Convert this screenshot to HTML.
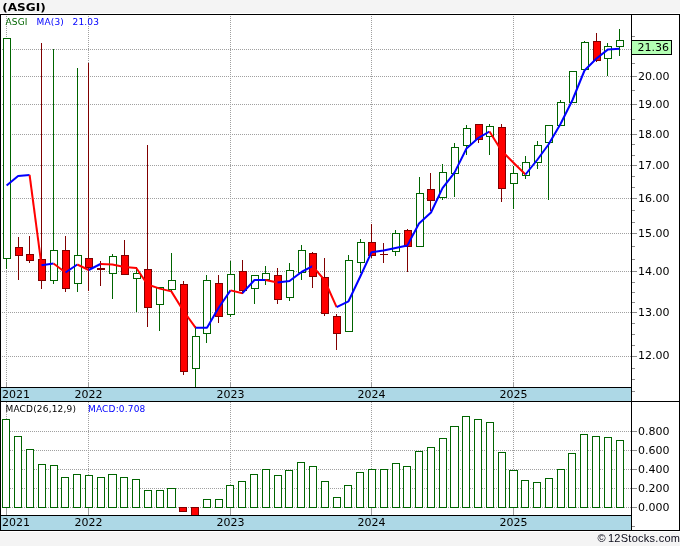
<!DOCTYPE html>
<html lang="en"><head><meta charset="utf-8"><title>(ASGI)</title>
<style>html,body{margin:0;padding:0;background:#f4f4f4;}body{width:680px;height:546px;overflow:hidden;}</style>
</head><body>
<svg width="680" height="546" viewBox="0 0 680 546" style="display:block">
<rect x="0" y="0" width="680" height="546" fill="#f4f4f4"/>
<rect x="0" y="13" width="680" height="519" fill="#ffffff"/>
<rect x="1" y="388" width="630" height="13" fill="#add8e6" shape-rendering="crispEdges"/>
<rect x="1" y="516" width="630" height="14" fill="#add8e6" shape-rendering="crispEdges"/>
<g stroke="#a0a0a0" stroke-width="1" stroke-dasharray="1 1" shape-rendering="crispEdges" fill="none">
<line x1="0" y1="49.5" x2="631" y2="49.5"/>
<line x1="0" y1="76.5" x2="631" y2="76.5"/>
<line x1="0" y1="104.5" x2="631" y2="104.5"/>
<line x1="0" y1="134.5" x2="631" y2="134.5"/>
<line x1="0" y1="165.5" x2="631" y2="165.5"/>
<line x1="0" y1="198.5" x2="631" y2="198.5"/>
<line x1="0" y1="233.5" x2="631" y2="233.5"/>
<line x1="0" y1="271.5" x2="631" y2="271.5"/>
<line x1="0" y1="312.5" x2="631" y2="312.5"/>
<line x1="0" y1="356.5" x2="631" y2="356.5"/>
<line x1="0" y1="431.5" x2="631" y2="431.5"/>
<line x1="0" y1="450.5" x2="631" y2="450.5"/>
<line x1="0" y1="469.5" x2="631" y2="469.5"/>
<line x1="0" y1="488.5" x2="631" y2="488.5"/>
<line x1="0" y1="507.5" x2="631" y2="507.5"/>
<line x1="6.5" y1="14" x2="6.5" y2="388"/>
<line x1="6.5" y1="402" x2="6.5" y2="516"/>
<line x1="88.5" y1="14" x2="88.5" y2="388"/>
<line x1="88.5" y1="402" x2="88.5" y2="516"/>
<line x1="230.5" y1="14" x2="230.5" y2="388"/>
<line x1="230.5" y1="402" x2="230.5" y2="516"/>
<line x1="371.5" y1="14" x2="371.5" y2="388"/>
<line x1="371.5" y1="402" x2="371.5" y2="516"/>
<line x1="513.5" y1="14" x2="513.5" y2="388"/>
<line x1="513.5" y1="402" x2="513.5" y2="516"/>
</g>
<g stroke="#a0a0a0" stroke-width="1" shape-rendering="crispEdges">
<line x1="6.5" y1="382" x2="6.5" y2="387"/>
<line x1="6.5" y1="509" x2="6.5" y2="515"/>
<line x1="88.5" y1="382" x2="88.5" y2="387"/>
<line x1="88.5" y1="509" x2="88.5" y2="515"/>
<line x1="230.5" y1="382" x2="230.5" y2="387"/>
<line x1="230.5" y1="509" x2="230.5" y2="515"/>
<line x1="371.5" y1="382" x2="371.5" y2="387"/>
<line x1="371.5" y1="509" x2="371.5" y2="515"/>
<line x1="513.5" y1="382" x2="513.5" y2="387"/>
<line x1="513.5" y1="509" x2="513.5" y2="515"/>
</g>
<rect x="2.5" y="419.5" width="7" height="88" fill="#ffffff" stroke="#006400" stroke-width="1" shape-rendering="crispEdges"/>
<rect x="14.5" y="436.5" width="7" height="71" fill="#ffffff" stroke="#006400" stroke-width="1" shape-rendering="crispEdges"/>
<rect x="26.5" y="449.5" width="7" height="58" fill="#ffffff" stroke="#006400" stroke-width="1" shape-rendering="crispEdges"/>
<rect x="38.5" y="464.5" width="7" height="43" fill="#ffffff" stroke="#006400" stroke-width="1" shape-rendering="crispEdges"/>
<rect x="50.5" y="465.5" width="7" height="42" fill="#ffffff" stroke="#006400" stroke-width="1" shape-rendering="crispEdges"/>
<rect x="61.5" y="477.5" width="7" height="30" fill="#ffffff" stroke="#006400" stroke-width="1" shape-rendering="crispEdges"/>
<rect x="73.5" y="474.5" width="7" height="33" fill="#ffffff" stroke="#006400" stroke-width="1" shape-rendering="crispEdges"/>
<rect x="85.5" y="475.5" width="7" height="32" fill="#ffffff" stroke="#006400" stroke-width="1" shape-rendering="crispEdges"/>
<rect x="97.5" y="477.5" width="7" height="30" fill="#ffffff" stroke="#006400" stroke-width="1" shape-rendering="crispEdges"/>
<rect x="108.5" y="474.5" width="8" height="33" fill="#ffffff" stroke="#006400" stroke-width="1" shape-rendering="crispEdges"/>
<rect x="120.5" y="477.5" width="7" height="30" fill="#ffffff" stroke="#006400" stroke-width="1" shape-rendering="crispEdges"/>
<rect x="132.5" y="479.5" width="7" height="28" fill="#ffffff" stroke="#006400" stroke-width="1" shape-rendering="crispEdges"/>
<rect x="144.5" y="490.5" width="7" height="17" fill="#ffffff" stroke="#006400" stroke-width="1" shape-rendering="crispEdges"/>
<rect x="156.5" y="490.5" width="7" height="17" fill="#ffffff" stroke="#006400" stroke-width="1" shape-rendering="crispEdges"/>
<rect x="167.5" y="488.5" width="8" height="19" fill="#ffffff" stroke="#006400" stroke-width="1" shape-rendering="crispEdges"/>
<rect x="179.5" y="507.5" width="7" height="4" fill="#ff0000" stroke="#800000" stroke-width="1" shape-rendering="crispEdges"/>
<rect x="191.5" y="507.5" width="7" height="8" fill="#ff0000" stroke="#800000" stroke-width="1" shape-rendering="crispEdges"/>
<rect x="203.5" y="499.5" width="7" height="8" fill="#ffffff" stroke="#006400" stroke-width="1" shape-rendering="crispEdges"/>
<rect x="215.5" y="499.5" width="7" height="8" fill="#ffffff" stroke="#006400" stroke-width="1" shape-rendering="crispEdges"/>
<rect x="226.5" y="485.5" width="7" height="22" fill="#ffffff" stroke="#006400" stroke-width="1" shape-rendering="crispEdges"/>
<rect x="238.5" y="481.5" width="7" height="26" fill="#ffffff" stroke="#006400" stroke-width="1" shape-rendering="crispEdges"/>
<rect x="250.5" y="474.5" width="7" height="33" fill="#ffffff" stroke="#006400" stroke-width="1" shape-rendering="crispEdges"/>
<rect x="262.5" y="469.5" width="7" height="38" fill="#ffffff" stroke="#006400" stroke-width="1" shape-rendering="crispEdges"/>
<rect x="274.5" y="475.5" width="7" height="32" fill="#ffffff" stroke="#006400" stroke-width="1" shape-rendering="crispEdges"/>
<rect x="285.5" y="470.5" width="7" height="37" fill="#ffffff" stroke="#006400" stroke-width="1" shape-rendering="crispEdges"/>
<rect x="297.5" y="462.5" width="7" height="45" fill="#ffffff" stroke="#006400" stroke-width="1" shape-rendering="crispEdges"/>
<rect x="309.5" y="466.5" width="7" height="41" fill="#ffffff" stroke="#006400" stroke-width="1" shape-rendering="crispEdges"/>
<rect x="321.5" y="481.5" width="7" height="26" fill="#ffffff" stroke="#006400" stroke-width="1" shape-rendering="crispEdges"/>
<rect x="333.5" y="497.5" width="7" height="10" fill="#ffffff" stroke="#006400" stroke-width="1" shape-rendering="crispEdges"/>
<rect x="344.5" y="485.5" width="7" height="22" fill="#ffffff" stroke="#006400" stroke-width="1" shape-rendering="crispEdges"/>
<rect x="356.5" y="472.5" width="7" height="35" fill="#ffffff" stroke="#006400" stroke-width="1" shape-rendering="crispEdges"/>
<rect x="368.5" y="469.5" width="7" height="38" fill="#ffffff" stroke="#006400" stroke-width="1" shape-rendering="crispEdges"/>
<rect x="380.5" y="469.5" width="7" height="38" fill="#ffffff" stroke="#006400" stroke-width="1" shape-rendering="crispEdges"/>
<rect x="392.5" y="463.5" width="7" height="44" fill="#ffffff" stroke="#006400" stroke-width="1" shape-rendering="crispEdges"/>
<rect x="403.5" y="466.5" width="7" height="41" fill="#ffffff" stroke="#006400" stroke-width="1" shape-rendering="crispEdges"/>
<rect x="415.5" y="451.5" width="7" height="56" fill="#ffffff" stroke="#006400" stroke-width="1" shape-rendering="crispEdges"/>
<rect x="427.5" y="447.5" width="7" height="60" fill="#ffffff" stroke="#006400" stroke-width="1" shape-rendering="crispEdges"/>
<rect x="439.5" y="438.5" width="7" height="69" fill="#ffffff" stroke="#006400" stroke-width="1" shape-rendering="crispEdges"/>
<rect x="450.5" y="426.5" width="8" height="81" fill="#ffffff" stroke="#006400" stroke-width="1" shape-rendering="crispEdges"/>
<rect x="462.5" y="416.5" width="7" height="91" fill="#ffffff" stroke="#006400" stroke-width="1" shape-rendering="crispEdges"/>
<rect x="474.5" y="419.5" width="7" height="88" fill="#ffffff" stroke="#006400" stroke-width="1" shape-rendering="crispEdges"/>
<rect x="486.5" y="422.5" width="7" height="85" fill="#ffffff" stroke="#006400" stroke-width="1" shape-rendering="crispEdges"/>
<rect x="498.5" y="452.5" width="7" height="55" fill="#ffffff" stroke="#006400" stroke-width="1" shape-rendering="crispEdges"/>
<rect x="509.5" y="470.5" width="8" height="37" fill="#ffffff" stroke="#006400" stroke-width="1" shape-rendering="crispEdges"/>
<rect x="521.5" y="480.5" width="7" height="27" fill="#ffffff" stroke="#006400" stroke-width="1" shape-rendering="crispEdges"/>
<rect x="533.5" y="482.5" width="7" height="25" fill="#ffffff" stroke="#006400" stroke-width="1" shape-rendering="crispEdges"/>
<rect x="545.5" y="478.5" width="7" height="29" fill="#ffffff" stroke="#006400" stroke-width="1" shape-rendering="crispEdges"/>
<rect x="557.5" y="469.5" width="7" height="38" fill="#ffffff" stroke="#006400" stroke-width="1" shape-rendering="crispEdges"/>
<rect x="568.5" y="453.5" width="7" height="54" fill="#ffffff" stroke="#006400" stroke-width="1" shape-rendering="crispEdges"/>
<rect x="580.5" y="434.5" width="7" height="73" fill="#ffffff" stroke="#006400" stroke-width="1" shape-rendering="crispEdges"/>
<rect x="592.5" y="436.5" width="7" height="71" fill="#ffffff" stroke="#006400" stroke-width="1" shape-rendering="crispEdges"/>
<rect x="604.5" y="437.5" width="7" height="70" fill="#ffffff" stroke="#006400" stroke-width="1" shape-rendering="crispEdges"/>
<rect x="616.5" y="440.5" width="7" height="67" fill="#ffffff" stroke="#006400" stroke-width="1" shape-rendering="crispEdges"/>
<line x1="6.5" y1="38" x2="6.5" y2="269" stroke="#006400" stroke-width="1" shape-rendering="crispEdges"/>
<rect x="3.5" y="38.5" width="7" height="220" fill="#ffffff" stroke="#006400" stroke-width="1" shape-rendering="crispEdges"/>
<line x1="18.5" y1="237" x2="18.5" y2="280" stroke="#800000" stroke-width="1" shape-rendering="crispEdges"/>
<rect x="15.5" y="247.5" width="7" height="8" fill="#ff0000" stroke="#800000" stroke-width="1" shape-rendering="crispEdges"/>
<line x1="29.5" y1="236" x2="29.5" y2="263" stroke="#800000" stroke-width="1" shape-rendering="crispEdges"/>
<rect x="26.5" y="254.5" width="7" height="6" fill="#ff0000" stroke="#800000" stroke-width="1" shape-rendering="crispEdges"/>
<line x1="41.5" y1="43" x2="41.5" y2="289" stroke="#800000" stroke-width="1" shape-rendering="crispEdges"/>
<rect x="38.5" y="259.5" width="7" height="21" fill="#ff0000" stroke="#800000" stroke-width="1" shape-rendering="crispEdges"/>
<line x1="53.5" y1="49" x2="53.5" y2="284" stroke="#006400" stroke-width="1" shape-rendering="crispEdges"/>
<rect x="50.5" y="250.5" width="7" height="30" fill="#ffffff" stroke="#006400" stroke-width="1" shape-rendering="crispEdges"/>
<line x1="65.5" y1="236" x2="65.5" y2="292" stroke="#800000" stroke-width="1" shape-rendering="crispEdges"/>
<rect x="62.5" y="250.5" width="7" height="38" fill="#ff0000" stroke="#800000" stroke-width="1" shape-rendering="crispEdges"/>
<line x1="77.5" y1="68" x2="77.5" y2="292" stroke="#006400" stroke-width="1" shape-rendering="crispEdges"/>
<rect x="74.5" y="255.5" width="7" height="28" fill="#ffffff" stroke="#006400" stroke-width="1" shape-rendering="crispEdges"/>
<line x1="88.5" y1="63" x2="88.5" y2="291" stroke="#800000" stroke-width="1" shape-rendering="crispEdges"/>
<rect x="85.5" y="258.5" width="7" height="9" fill="#ff0000" stroke="#800000" stroke-width="1" shape-rendering="crispEdges"/>
<line x1="100.5" y1="261" x2="100.5" y2="286" stroke="#800000" stroke-width="1" shape-rendering="crispEdges"/>
<rect x="97" y="268" width="8" height="2" fill="#800000" shape-rendering="crispEdges"/>
<line x1="112.5" y1="254" x2="112.5" y2="299" stroke="#006400" stroke-width="1" shape-rendering="crispEdges"/>
<rect x="109.5" y="256.5" width="7" height="17" fill="#ffffff" stroke="#006400" stroke-width="1" shape-rendering="crispEdges"/>
<line x1="124.5" y1="240" x2="124.5" y2="275" stroke="#800000" stroke-width="1" shape-rendering="crispEdges"/>
<rect x="121.5" y="255.5" width="7" height="19" fill="#ff0000" stroke="#800000" stroke-width="1" shape-rendering="crispEdges"/>
<line x1="136.5" y1="267" x2="136.5" y2="312" stroke="#006400" stroke-width="1" shape-rendering="crispEdges"/>
<rect x="133.5" y="273.5" width="7" height="5" fill="#ffffff" stroke="#006400" stroke-width="1" shape-rendering="crispEdges"/>
<line x1="147.5" y1="145" x2="147.5" y2="327" stroke="#800000" stroke-width="1" shape-rendering="crispEdges"/>
<rect x="144.5" y="269.5" width="7" height="38" fill="#ff0000" stroke="#800000" stroke-width="1" shape-rendering="crispEdges"/>
<line x1="159.5" y1="287" x2="159.5" y2="331" stroke="#006400" stroke-width="1" shape-rendering="crispEdges"/>
<rect x="156.5" y="287.5" width="7" height="17" fill="#ffffff" stroke="#006400" stroke-width="1" shape-rendering="crispEdges"/>
<line x1="171.5" y1="253" x2="171.5" y2="292" stroke="#006400" stroke-width="1" shape-rendering="crispEdges"/>
<rect x="168.5" y="280.5" width="7" height="9" fill="#ffffff" stroke="#006400" stroke-width="1" shape-rendering="crispEdges"/>
<line x1="183.5" y1="281" x2="183.5" y2="375" stroke="#800000" stroke-width="1" shape-rendering="crispEdges"/>
<rect x="180.5" y="284.5" width="7" height="87" fill="#ff0000" stroke="#800000" stroke-width="1" shape-rendering="crispEdges"/>
<line x1="195.5" y1="326" x2="195.5" y2="388" stroke="#006400" stroke-width="1" shape-rendering="crispEdges"/>
<rect x="192.5" y="336.5" width="7" height="32" fill="#ffffff" stroke="#006400" stroke-width="1" shape-rendering="crispEdges"/>
<line x1="206.5" y1="275" x2="206.5" y2="343" stroke="#006400" stroke-width="1" shape-rendering="crispEdges"/>
<rect x="203.5" y="280.5" width="7" height="53" fill="#ffffff" stroke="#006400" stroke-width="1" shape-rendering="crispEdges"/>
<line x1="218.5" y1="275" x2="218.5" y2="323" stroke="#800000" stroke-width="1" shape-rendering="crispEdges"/>
<rect x="215.5" y="283.5" width="7" height="33" fill="#ff0000" stroke="#800000" stroke-width="1" shape-rendering="crispEdges"/>
<line x1="230.5" y1="261" x2="230.5" y2="317" stroke="#006400" stroke-width="1" shape-rendering="crispEdges"/>
<rect x="227.5" y="274.5" width="7" height="40" fill="#ffffff" stroke="#006400" stroke-width="1" shape-rendering="crispEdges"/>
<line x1="242.5" y1="260" x2="242.5" y2="294" stroke="#800000" stroke-width="1" shape-rendering="crispEdges"/>
<rect x="239.5" y="271.5" width="7" height="19" fill="#ff0000" stroke="#800000" stroke-width="1" shape-rendering="crispEdges"/>
<line x1="254.5" y1="275" x2="254.5" y2="304" stroke="#006400" stroke-width="1" shape-rendering="crispEdges"/>
<rect x="251.5" y="275.5" width="7" height="13" fill="#ffffff" stroke="#006400" stroke-width="1" shape-rendering="crispEdges"/>
<line x1="265.5" y1="266" x2="265.5" y2="285" stroke="#006400" stroke-width="1" shape-rendering="crispEdges"/>
<rect x="262.5" y="273.5" width="7" height="6" fill="#ffffff" stroke="#006400" stroke-width="1" shape-rendering="crispEdges"/>
<line x1="277.5" y1="268" x2="277.5" y2="304" stroke="#800000" stroke-width="1" shape-rendering="crispEdges"/>
<rect x="274.5" y="275.5" width="7" height="24" fill="#ff0000" stroke="#800000" stroke-width="1" shape-rendering="crispEdges"/>
<line x1="289.5" y1="263" x2="289.5" y2="301" stroke="#006400" stroke-width="1" shape-rendering="crispEdges"/>
<rect x="286.5" y="270.5" width="7" height="27" fill="#ffffff" stroke="#006400" stroke-width="1" shape-rendering="crispEdges"/>
<line x1="301.5" y1="245" x2="301.5" y2="280" stroke="#006400" stroke-width="1" shape-rendering="crispEdges"/>
<rect x="298.5" y="250.5" width="7" height="22" fill="#ffffff" stroke="#006400" stroke-width="1" shape-rendering="crispEdges"/>
<line x1="312.5" y1="252" x2="312.5" y2="288" stroke="#800000" stroke-width="1" shape-rendering="crispEdges"/>
<rect x="309.5" y="253.5" width="7" height="23" fill="#ff0000" stroke="#800000" stroke-width="1" shape-rendering="crispEdges"/>
<line x1="324.5" y1="258" x2="324.5" y2="316" stroke="#800000" stroke-width="1" shape-rendering="crispEdges"/>
<rect x="321.5" y="277.5" width="7" height="36" fill="#ff0000" stroke="#800000" stroke-width="1" shape-rendering="crispEdges"/>
<line x1="336.5" y1="314" x2="336.5" y2="350" stroke="#800000" stroke-width="1" shape-rendering="crispEdges"/>
<rect x="333.5" y="316.5" width="7" height="17" fill="#ff0000" stroke="#800000" stroke-width="1" shape-rendering="crispEdges"/>
<line x1="348.5" y1="255" x2="348.5" y2="332" stroke="#006400" stroke-width="1" shape-rendering="crispEdges"/>
<rect x="345.5" y="260.5" width="7" height="71" fill="#ffffff" stroke="#006400" stroke-width="1" shape-rendering="crispEdges"/>
<line x1="360.5" y1="239" x2="360.5" y2="273" stroke="#006400" stroke-width="1" shape-rendering="crispEdges"/>
<rect x="357.5" y="242.5" width="7" height="20" fill="#ffffff" stroke="#006400" stroke-width="1" shape-rendering="crispEdges"/>
<line x1="371.5" y1="224" x2="371.5" y2="258" stroke="#800000" stroke-width="1" shape-rendering="crispEdges"/>
<rect x="368.5" y="242.5" width="7" height="13" fill="#ff0000" stroke="#800000" stroke-width="1" shape-rendering="crispEdges"/>
<line x1="383.5" y1="243" x2="383.5" y2="263" stroke="#800000" stroke-width="1" shape-rendering="crispEdges"/>
<rect x="380" y="254" width="8" height="1" fill="#800000" shape-rendering="crispEdges"/>
<line x1="395.5" y1="230" x2="395.5" y2="256" stroke="#006400" stroke-width="1" shape-rendering="crispEdges"/>
<rect x="392.5" y="233.5" width="7" height="18" fill="#ffffff" stroke="#006400" stroke-width="1" shape-rendering="crispEdges"/>
<line x1="407.5" y1="229" x2="407.5" y2="272" stroke="#800000" stroke-width="1" shape-rendering="crispEdges"/>
<rect x="404.5" y="230.5" width="7" height="16" fill="#ff0000" stroke="#800000" stroke-width="1" shape-rendering="crispEdges"/>
<line x1="419.5" y1="177" x2="419.5" y2="247" stroke="#006400" stroke-width="1" shape-rendering="crispEdges"/>
<rect x="416.5" y="193.5" width="7" height="53" fill="#ffffff" stroke="#006400" stroke-width="1" shape-rendering="crispEdges"/>
<line x1="430.5" y1="173" x2="430.5" y2="211" stroke="#800000" stroke-width="1" shape-rendering="crispEdges"/>
<rect x="427.5" y="189.5" width="7" height="11" fill="#ff0000" stroke="#800000" stroke-width="1" shape-rendering="crispEdges"/>
<line x1="442.5" y1="164" x2="442.5" y2="200" stroke="#006400" stroke-width="1" shape-rendering="crispEdges"/>
<rect x="439.5" y="172.5" width="7" height="25" fill="#ffffff" stroke="#006400" stroke-width="1" shape-rendering="crispEdges"/>
<line x1="454.5" y1="143" x2="454.5" y2="197" stroke="#006400" stroke-width="1" shape-rendering="crispEdges"/>
<rect x="451.5" y="147.5" width="7" height="26" fill="#ffffff" stroke="#006400" stroke-width="1" shape-rendering="crispEdges"/>
<line x1="466.5" y1="125" x2="466.5" y2="155" stroke="#006400" stroke-width="1" shape-rendering="crispEdges"/>
<rect x="463.5" y="128.5" width="7" height="17" fill="#ffffff" stroke="#006400" stroke-width="1" shape-rendering="crispEdges"/>
<line x1="478.5" y1="124" x2="478.5" y2="143" stroke="#800000" stroke-width="1" shape-rendering="crispEdges"/>
<rect x="475.5" y="124.5" width="7" height="15" fill="#ff0000" stroke="#800000" stroke-width="1" shape-rendering="crispEdges"/>
<line x1="489.5" y1="124" x2="489.5" y2="155" stroke="#006400" stroke-width="1" shape-rendering="crispEdges"/>
<rect x="486.5" y="126.5" width="7" height="10" fill="#ffffff" stroke="#006400" stroke-width="1" shape-rendering="crispEdges"/>
<line x1="501.5" y1="124" x2="501.5" y2="202" stroke="#800000" stroke-width="1" shape-rendering="crispEdges"/>
<rect x="498.5" y="127.5" width="7" height="61" fill="#ff0000" stroke="#800000" stroke-width="1" shape-rendering="crispEdges"/>
<line x1="513.5" y1="166" x2="513.5" y2="209" stroke="#006400" stroke-width="1" shape-rendering="crispEdges"/>
<rect x="510.5" y="173.5" width="7" height="10" fill="#ffffff" stroke="#006400" stroke-width="1" shape-rendering="crispEdges"/>
<line x1="525.5" y1="156" x2="525.5" y2="179" stroke="#006400" stroke-width="1" shape-rendering="crispEdges"/>
<rect x="522.5" y="162.5" width="7" height="13" fill="#ffffff" stroke="#006400" stroke-width="1" shape-rendering="crispEdges"/>
<line x1="537.5" y1="141" x2="537.5" y2="169" stroke="#006400" stroke-width="1" shape-rendering="crispEdges"/>
<rect x="534.5" y="145.5" width="7" height="17" fill="#ffffff" stroke="#006400" stroke-width="1" shape-rendering="crispEdges"/>
<line x1="548.5" y1="125" x2="548.5" y2="200" stroke="#006400" stroke-width="1" shape-rendering="crispEdges"/>
<rect x="545.5" y="125.5" width="7" height="17" fill="#ffffff" stroke="#006400" stroke-width="1" shape-rendering="crispEdges"/>
<line x1="560.5" y1="100" x2="560.5" y2="126" stroke="#006400" stroke-width="1" shape-rendering="crispEdges"/>
<rect x="557.5" y="102.5" width="7" height="23" fill="#ffffff" stroke="#006400" stroke-width="1" shape-rendering="crispEdges"/>
<line x1="572.5" y1="71" x2="572.5" y2="103" stroke="#006400" stroke-width="1" shape-rendering="crispEdges"/>
<rect x="569.5" y="71.5" width="7" height="31" fill="#ffffff" stroke="#006400" stroke-width="1" shape-rendering="crispEdges"/>
<line x1="584.5" y1="41" x2="584.5" y2="70" stroke="#006400" stroke-width="1" shape-rendering="crispEdges"/>
<rect x="581.5" y="42.5" width="7" height="27" fill="#ffffff" stroke="#006400" stroke-width="1" shape-rendering="crispEdges"/>
<line x1="596.5" y1="33" x2="596.5" y2="62" stroke="#800000" stroke-width="1" shape-rendering="crispEdges"/>
<rect x="593.5" y="41.5" width="7" height="19" fill="#ff0000" stroke="#800000" stroke-width="1" shape-rendering="crispEdges"/>
<line x1="607.5" y1="43" x2="607.5" y2="76" stroke="#006400" stroke-width="1" shape-rendering="crispEdges"/>
<rect x="604.5" y="46.5" width="7" height="12" fill="#ffffff" stroke="#006400" stroke-width="1" shape-rendering="crispEdges"/>
<line x1="619.5" y1="29" x2="619.5" y2="56" stroke="#006400" stroke-width="1" shape-rendering="crispEdges"/>
<rect x="616.5" y="40.5" width="7" height="6" fill="#ffffff" stroke="#006400" stroke-width="1" shape-rendering="crispEdges"/>
<polyline points="6.6,185.6 18.1,175.9 29.6,175.0" fill="none" stroke="#0000ff" stroke-width="2" stroke-linejoin="round" stroke-linecap="butt"/>
<polyline points="29.6,175.0 41.5,265.3" fill="none" stroke="#ff0000" stroke-width="2" stroke-linejoin="round" stroke-linecap="butt"/>
<polyline points="41.5,265.3 53.5,263.5" fill="none" stroke="#0000ff" stroke-width="2" stroke-linejoin="round" stroke-linecap="butt"/>
<polyline points="53.5,263.5 65.5,272.5" fill="none" stroke="#ff0000" stroke-width="2" stroke-linejoin="round" stroke-linecap="butt"/>
<polyline points="65.5,272.5 77.3,264.5" fill="none" stroke="#0000ff" stroke-width="2" stroke-linejoin="round" stroke-linecap="butt"/>
<polyline points="77.3,264.5 88.7,270" fill="none" stroke="#ff0000" stroke-width="2" stroke-linejoin="round" stroke-linecap="butt"/>
<polyline points="88.7,270 100.5,264" fill="none" stroke="#0000ff" stroke-width="2" stroke-linejoin="round" stroke-linecap="butt"/>
<polyline points="100.5,264 112.3,264.5 124.5,267 136.3,268 147.5,284.5 159.8,288.6 171.3,291.4 183.5,311 195.7,327.8" fill="none" stroke="#ff0000" stroke-width="2" stroke-linejoin="round" stroke-linecap="butt"/>
<polyline points="195.7,327.8 207,327.8 218.5,308 230.5,290.4" fill="none" stroke="#0000ff" stroke-width="2" stroke-linejoin="round" stroke-linecap="butt"/>
<polyline points="230.5,290.4 242.5,293.2" fill="none" stroke="#ff0000" stroke-width="2" stroke-linejoin="round" stroke-linecap="butt"/>
<polyline points="242.5,293.2 254.5,280 265.5,280" fill="none" stroke="#0000ff" stroke-width="2" stroke-linejoin="round" stroke-linecap="butt"/>
<polyline points="265.5,280 277.5,282.5" fill="none" stroke="#ff0000" stroke-width="2" stroke-linejoin="round" stroke-linecap="butt"/>
<polyline points="277.5,282.5 289.5,281 301.5,272 312.5,266.2" fill="none" stroke="#0000ff" stroke-width="2" stroke-linejoin="round" stroke-linecap="butt"/>
<polyline points="312.5,266.2 324.5,280 336.6,307.2" fill="none" stroke="#ff0000" stroke-width="2" stroke-linejoin="round" stroke-linecap="butt"/>
<polyline points="336.6,307.2 348.5,301.3 360.5,276 371.5,252.2 383.5,250.5 395.5,248 407.3,245.6 419,223.5 431,212.5 442.5,188.1 454.5,172.6 466.5,148.5 478.5,137.8 489.5,131.5" fill="none" stroke="#0000ff" stroke-width="2" stroke-linejoin="round" stroke-linecap="butt"/>
<polyline points="489.5,131.5 501.5,150.7 513.5,162.8 525.5,174.5" fill="none" stroke="#ff0000" stroke-width="2" stroke-linejoin="round" stroke-linecap="butt"/>
<polyline points="525.5,174.5 537.5,159.5 548.5,144.5 560.5,124 572.5,100 584.5,70.5 596.5,58.5 608,49.4 619.5,48.7" fill="none" stroke="#0000ff" stroke-width="2" stroke-linejoin="round" stroke-linecap="butt"/>
<g stroke="#000000" stroke-width="1" shape-rendering="crispEdges">
<line x1="0" y1="14.5" x2="680" y2="14.5"/>
<line x1="0.5" y1="14" x2="0.5" y2="531"/>
<line x1="679.5" y1="14" x2="679.5" y2="531"/>
<line x1="0" y1="530.5" x2="680" y2="530.5"/>
<line x1="631.5" y1="14" x2="631.5" y2="531"/>
<line x1="0" y1="387.5" x2="632" y2="387.5"/>
<line x1="0" y1="401.5" x2="680" y2="401.5"/>
<line x1="0" y1="515.5" x2="632" y2="515.5"/>
</g>
<g stroke="#8c8c8c" stroke-width="1" shape-rendering="crispEdges">
<line x1="632" y1="49.5" x2="637" y2="49.5"/>
<line x1="632" y1="76.5" x2="637" y2="76.5"/>
<line x1="632" y1="104.5" x2="637" y2="104.5"/>
<line x1="632" y1="134.5" x2="637" y2="134.5"/>
<line x1="632" y1="165.5" x2="637" y2="165.5"/>
<line x1="632" y1="198.5" x2="637" y2="198.5"/>
<line x1="632" y1="233.5" x2="637" y2="233.5"/>
<line x1="632" y1="271.5" x2="637" y2="271.5"/>
<line x1="632" y1="312.5" x2="637" y2="312.5"/>
<line x1="632" y1="356.5" x2="637" y2="356.5"/>
<line x1="632" y1="36.5" x2="635" y2="36.5"/>
<line x1="632" y1="63.5" x2="635" y2="63.5"/>
<line x1="632" y1="90.5" x2="635" y2="90.5"/>
<line x1="632" y1="119.5" x2="635" y2="119.5"/>
<line x1="632" y1="144.5" x2="635" y2="144.5"/>
<line x1="632" y1="155.5" x2="635" y2="155.5"/>
<line x1="632" y1="176.5" x2="635" y2="176.5"/>
<line x1="632" y1="187.5" x2="635" y2="187.5"/>
<line x1="632" y1="210.5" x2="635" y2="210.5"/>
<line x1="632" y1="222.5" x2="635" y2="222.5"/>
<line x1="632" y1="246.5" x2="635" y2="246.5"/>
<line x1="632" y1="259.5" x2="635" y2="259.5"/>
<line x1="632" y1="282.5" x2="635" y2="282.5"/>
<line x1="632" y1="292.5" x2="635" y2="292.5"/>
<line x1="632" y1="302.5" x2="635" y2="302.5"/>
<line x1="632" y1="323.5" x2="635" y2="323.5"/>
<line x1="632" y1="334.5" x2="635" y2="334.5"/>
<line x1="632" y1="345.5" x2="635" y2="345.5"/>
<line x1="632" y1="368.5" x2="635" y2="368.5"/>
<line x1="632" y1="379.5" x2="635" y2="379.5"/>
<line x1="632" y1="391.5" x2="635" y2="391.5"/>
<line x1="632" y1="431.5" x2="637" y2="431.5"/>
<line x1="632" y1="450.5" x2="637" y2="450.5"/>
<line x1="632" y1="469.5" x2="637" y2="469.5"/>
<line x1="632" y1="488.5" x2="637" y2="488.5"/>
<line x1="632" y1="507.5" x2="637" y2="507.5"/>
<line x1="632" y1="526.5" x2="635" y2="526.5"/>
</g>
<rect x="631.5" y="40.5" width="40" height="14" fill="#b4ffb4" stroke="#000000" stroke-width="1" shape-rendering="crispEdges"/>
<g font-family='"DejaVu Sans", "Liberation Sans", sans-serif' font-size="11" fill="#000000">
<text x="638" y="79.5">20.00</text>
<text x="638" y="107.5">19.00</text>
<text x="638" y="137.5">18.00</text>
<text x="638" y="168.5">17.00</text>
<text x="638" y="201.5">16.00</text>
<text x="638" y="236.5">15.00</text>
<text x="638" y="274.5">14.00</text>
<text x="638" y="315.5">13.00</text>
<text x="638" y="358.5">12.00</text>
<text x="637.5" y="50.5">21.36</text>
<text x="638" y="434.5">0.800</text>
<text x="638" y="453.5">0.600</text>
<text x="638" y="472.5">0.400</text>
<text x="638" y="491.5">0.200</text>
<text x="638" y="510.5">0.000</text>
<text x="2" y="397.7">2021</text>
<text x="88.5" y="397.7" text-anchor="middle">2022</text>
<text x="230.5" y="397.7" text-anchor="middle">2023</text>
<text x="371.5" y="397.7" text-anchor="middle">2024</text>
<text x="513.5" y="397.7" text-anchor="middle">2025</text>
<text x="2" y="525.7">2021</text>
<text x="88.5" y="525.7" text-anchor="middle">2022</text>
<text x="230.5" y="525.7" text-anchor="middle">2023</text>
<text x="371.5" y="525.7" text-anchor="middle">2024</text>
<text x="513.5" y="525.7" text-anchor="middle">2025</text>
</g>
<g font-family='"DejaVu Sans", "Liberation Sans", sans-serif' font-size="9" letter-spacing="0.17">
<text x="5.5" y="25" fill="#006400">ASGI</text>
<text x="36.5" y="25" fill="#0000ff">MA(3)</text>
<text x="72.5" y="25" fill="#0000ff">21.03</text>
<text x="5.5" y="412" fill="#000000">MACD(26,12,9)</text>
<text x="88" y="412" fill="#0000ff">MACD:0.708</text>
</g>
<text transform="translate(2.2,11) scale(1.1,1)" font-family='"DejaVu Sans", "Liberation Sans", sans-serif' font-size="11" font-weight="bold" fill="#000000">(ASGI)</text>
<text x="597.6" y="541.6" font-family='"Liberation Sans", sans-serif' font-size="11" letter-spacing="0.27" fill="#0a0a18">©<tspan dx="2">12Stocks.com</tspan></text>
</svg>
</body></html>
